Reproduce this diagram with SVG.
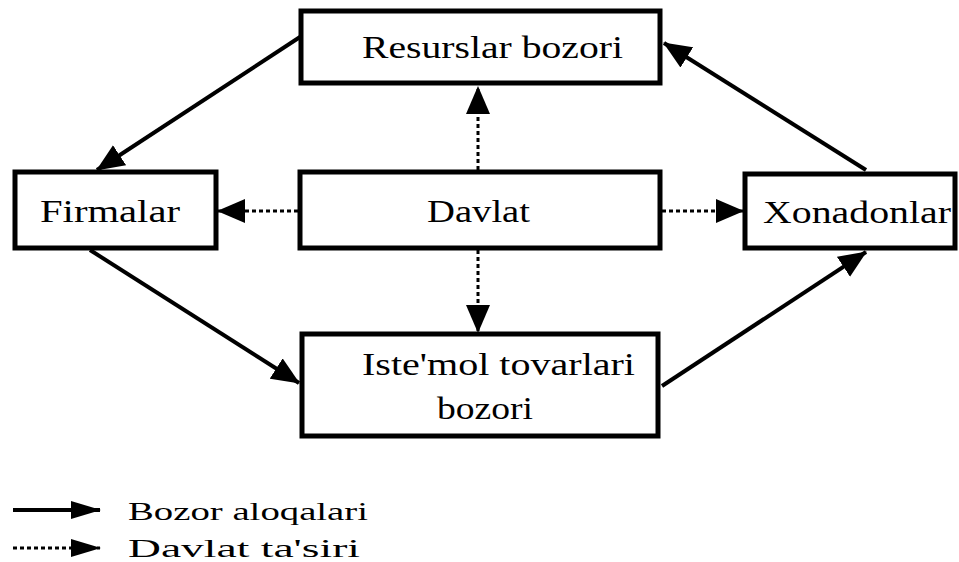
<svg xmlns="http://www.w3.org/2000/svg" width="959" height="562" viewBox="0 0 959 562">
<style>
.box{fill:#fff;stroke:#000;stroke-width:5}
.t{font-family:"Liberation Serif","Times New Roman",serif;font-size:32px;fill:#000}
.lg{font-family:"Liberation Serif","Times New Roman",serif;font-size:26px;fill:#000}
.solid{stroke:#000;stroke-width:4;fill:none}
.dot{stroke:#000;stroke-width:3;fill:none;stroke-dasharray:4 3}
</style>
<defs>
<marker id="ah" viewBox="0 0 28 24" refX="27" refY="12" markerWidth="28" markerHeight="24" markerUnits="userSpaceOnUse" orient="auto">
<path d="M0,0 L28,12 L0,24 Z" fill="#000"/>
</marker>
<marker id="ahs" viewBox="0 0 30 18" refX="29" refY="9" markerWidth="30" markerHeight="18" markerUnits="userSpaceOnUse" orient="auto">
<path d="M0,0 L30,9 L0,18 Z" fill="#000"/>
</marker>
</defs>
<rect width="959" height="562" fill="#fff"/>
<g id="connectors">
<line class="solid" x1="300" y1="37" x2="97" y2="170" marker-end="url(#ah)"/>
<line class="solid" x1="90" y1="250" x2="299" y2="383" marker-end="url(#ah)"/>
<line class="solid" x1="662" y1="386" x2="866" y2="252" marker-end="url(#ah)"/>
<line class="solid" x1="866" y1="170" x2="664" y2="43" marker-end="url(#ah)"/>
<line class="dot" x1="478" y1="170" x2="478" y2="87" marker-end="url(#ah)"/>
<line class="dot" x1="478" y1="250" x2="478" y2="332" marker-end="url(#ah)"/>
<line class="dot" x1="298" y1="211" x2="218" y2="211" marker-end="url(#ah)"/>
<line class="dot" x1="662" y1="211" x2="743" y2="211" marker-end="url(#ah)"/>
</g>
<g id="resurslar">
<rect class="box" x="301" y="11" width="359" height="72"/>
<text class="t" x="362" y="58" textLength="261" lengthAdjust="spacingAndGlyphs">Resurslar bozori</text>
</g>
<g id="firmalar">
<rect class="box" x="15" y="172" width="201" height="76"/>
<text class="t" x="40" y="222" textLength="140" lengthAdjust="spacingAndGlyphs">Firmalar</text>
</g>
<g id="davlat">
<rect class="box" x="300" y="172" width="360" height="76"/>
<text class="t" x="427" y="222" textLength="103" lengthAdjust="spacingAndGlyphs">Davlat</text>
</g>
<g id="xonadonlar">
<rect class="box" x="745" y="174" width="210" height="74"/>
<text class="t" x="763" y="223" textLength="188" lengthAdjust="spacingAndGlyphs">Xonadonlar</text>
</g>
<g id="istemol">
<rect class="box" x="302" y="334" width="356" height="102"/>
<text class="t" x="362" y="375" textLength="273" lengthAdjust="spacingAndGlyphs">Iste'mol tovarlari</text>
<text class="t" x="437" y="419" textLength="96" lengthAdjust="spacingAndGlyphs">bozori</text>
</g>
<g id="legend">
<line class="solid" x1="13" y1="510" x2="100" y2="510" marker-end="url(#ahs)"/>
<line class="dot" x1="13" y1="548" x2="100" y2="548" marker-end="url(#ahs)"/>
<text class="lg" x="128" y="520" textLength="240" lengthAdjust="spacingAndGlyphs">Bozor aloqalari</text>
<text class="lg" x="128" y="557" textLength="232" lengthAdjust="spacingAndGlyphs">Davlat ta'siri</text>
</g>
</svg>
